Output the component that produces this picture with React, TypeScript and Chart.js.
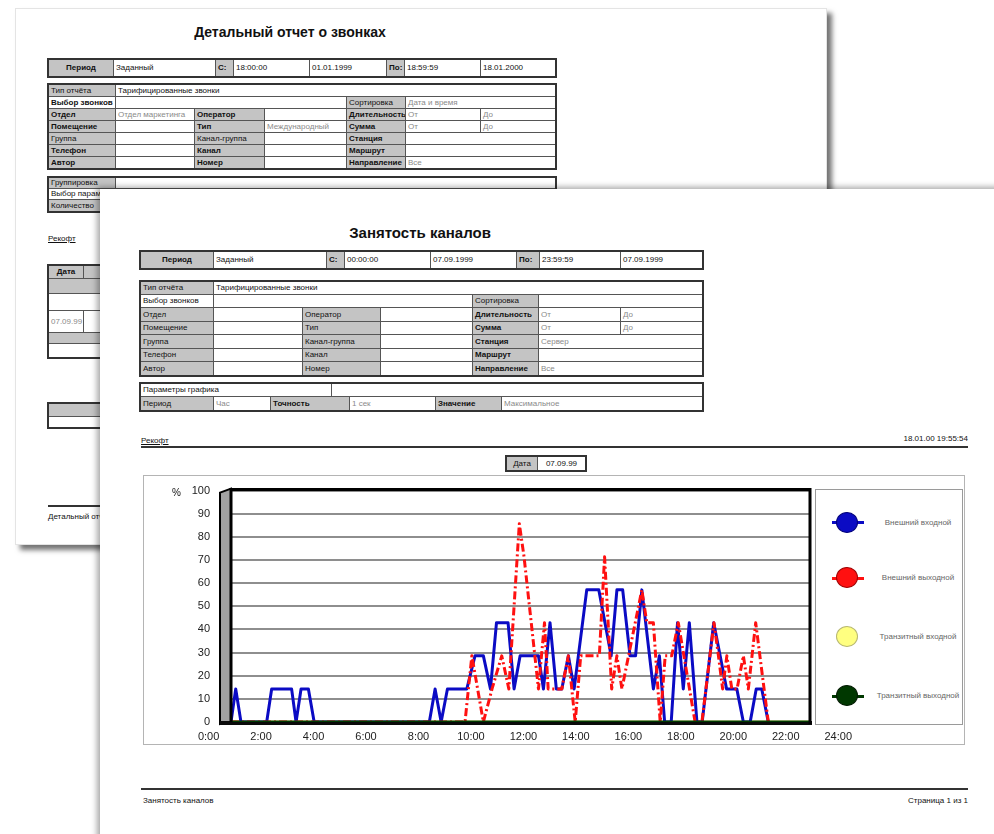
import React, { useEffect, useRef } from "react";
import { Chart, registerables } from "chart.js";

Chart.register(...registerables);

// ---------------- DATA ----------------
const seriesNames = ["Внешний входной", "Внешний выходной", "Транзитный входной", "Транзитный выходной"];
const seriesColors = ["#0b0bc4", "#ff1010", "#ffff80", "#003800"];
const xTickHours = [0, 2, 4, 6, 8, 10, 12, 14, 16, 18, 20, 22, 24];
const xMin = 0.93;
const xMax = 23.0;

// Внешний входной (blue)
const blueTimes = [0.93, 1.11, 1.31, 2.29, 2.48, 3.24, 3.41, 3.6, 3.88, 4.1, 8.49, 8.71, 8.94, 9.18, 9.92, 10.23, 10.55, 10.82, 11.05, 11.49, 11.72, 11.95, 12.65, 12.84, 13.09, 13.33, 13.54, 13.79, 14.01, 14.49, 14.95, 15.42, 15.64, 15.86, 16.14, 16.35, 16.59, 17.03, 17.26, 17.46, 17.71, 17.95, 18.17, 18.4, 18.69, 18.89, 19.33, 19.82, 20.21, 20.46, 20.72, 20.95, 21.16, 21.41];
const blueValues = [0, 14.3, 0, 0, 14.3, 14.3, 0, 14.3, 14.3, 0, 0, 14.3, 0, 14.3, 14.3, 28.6, 28.6, 14.3, 42.9, 42.9, 14.3, 28.6, 28.6, 14.3, 42.9, 14.3, 14.3, 28.6, 14.3, 57.1, 57.1, 28.6, 57.1, 57.1, 28.6, 28.6, 57.1, 14.3, 28.6, 0, 0, 42.9, 14.3, 42.9, 0, 0, 42.9, 14.3, 14.3, 0, 0, 14.3, 14.3, 0];

// Внешний выходной (red)
const redTimes = [0.93, 9.85, 10.11, 10.55, 10.88, 11.25, 11.52, 11.92, 12.1, 12.65, 12.88, 13.02, 13.54, 13.79, 14.05, 14.26, 14.97, 15.17, 15.44, 15.64, 15.83, 16.59, 16.78, 17.03, 17.29, 17.48, 17.73, 17.98, 18.62, 18.88, 19.34, 19.51, 19.67, 19.83, 20.02, 20.22, 20.46, 20.65, 20.93, 21.41];
const redValues = [0, 0, 28.6, 0, 14.3, 28.6, 14.3, 85.7, 71.4, 14.3, 42.9, 14.3, 14.3, 28.6, 0, 28.6, 28.6, 71.4, 14.3, 28.6, 14.3, 57.1, 42.9, 42.9, 0, 28.6, 28.6, 42.9, 0, 0, 42.9, 28.6, 14.3, 28.6, 14.3, 14.3, 28.6, 14.3, 42.9, 0];

// Транзитный входной (yellow) and Транзитный выходной (green)
const yellowTimes = [0.93, 23.0];
const yellowValues = [0, 0];
const greenTimes = [0.93, 23.0];
const greenValues = [0, 0];

// ---------------- LAYOUT HELPERS ----------------
const FONT = '"Liberation Sans", Arial, sans-serif';

type CellDef = [number, number, string, string?];

function Row({ y1, y2, cols }: { y1: number; y2: number; cols: CellDef[] }) {
  return (
    <>
      {cols.map(([x1, x2, t, f = ""], i) => {
        const grey = f.includes("g");
        const bold = f.includes("b");
        const val = f.includes("v");
        const center = f.includes("c");
        return (
          <div
            key={i}
            style={{
              position: "absolute",
              left: x1,
              top: y1,
              width: x2 - x1 + 1,
              height: y2 - y1 + 1,
              boxSizing: "border-box",
              border: "1px solid #555",
              background: grey ? "#c4c4c4" : "#fff",
              font: `${bold ? "bold " : ""}8px ${FONT}`,
              color: val ? "#8a8a8a" : "#111",
              lineHeight: `${y2 - y1 - 1}px`,
              paddingLeft: center ? 0 : 2,
              textAlign: center ? "center" : "left",
              whiteSpace: "nowrap",
              overflow: "hidden",
            }}
          >
            {t}
          </div>
        );
      })}
    </>
  );
}

function Table({ ys, rows, x1, x2 }: { ys: number[]; rows: CellDef[][]; x1: number; x2: number }) {
  return (
    <>
      {rows.map((cols, i) => (
        <Row key={i} y1={ys[i]} y2={ys[i + 1]} cols={cols} />
      ))}
      <div
        style={{
          position: "absolute",
          left: x1 - 1,
          top: ys[0] - 1,
          width: x2 - x1 + 3,
          height: ys[ys.length - 1] - ys[0] + 3,
          boxSizing: "border-box",
          border: "2px solid #333",
        }}
      />
    </>
  );
}

function Txt({ x, y, t, size = 8, bold = false, color = "#111", align = "left", w = 300, underline = false }: any) {
  const left = align === "right" ? x - w : align === "center" ? x - w / 2 : x;
  return (
    <div
      style={{
        position: "absolute",
        left,
        top: y,
        width: w,
        textAlign: align,
        font: `${bold ? "bold " : ""}${size}px ${FONT}`,
        color,
        whiteSpace: "nowrap",
        textDecoration: underline ? "underline" : "none",
        lineHeight: 1,
      }}
    >
      {t}
    </div>
  );
}

function HLine({ x, y, w, h = 2, c = "#333" }: any) {
  return <div style={{ position: "absolute", left: x, top: y, width: w, height: h, background: c }} />;
}

// ---------------- CHART ----------------
function ChannelChart() {
  const ref = useRef<HTMLCanvasElement>(null);
  useEffect(() => {
    if (!ref.current) return;
    const frame3d = {
      id: "frame3d",
      beforeDatasetsDraw(chart: any) {
        const { ctx, chartArea: a } = chart;
        ctx.save();
        ctx.fillStyle = "#a2a2a2";
        ctx.beginPath();
        ctx.moveTo(a.left - 11, a.top + 2);
        ctx.lineTo(a.left, a.top - 2);
        ctx.lineTo(a.left, a.bottom);
        ctx.lineTo(a.left - 11, a.bottom + 2);
        ctx.closePath();
        ctx.fill();
        ctx.strokeStyle = "#000";
        ctx.lineWidth = 2;
        ctx.stroke();
        ctx.fillStyle = "#0a0a0a";
        ctx.fillRect(a.left - 11, a.bottom - 1, a.right - a.left + 13, 4);
        ctx.restore();
      },
      afterDatasetsDraw(chart: any) {
        const { ctx, chartArea: a } = chart;
        ctx.save();
        ctx.strokeStyle = "#000";
        ctx.lineWidth = 3;
        ctx.beginPath();
        ctx.moveTo(a.left, a.bottom);
        ctx.lineTo(a.left, a.top - 1);
        ctx.lineTo(a.right, a.top - 1);
        ctx.lineTo(a.right, a.bottom + 2);
        ctx.stroke();
        ctx.restore();
      },
    };
    const pts = (ts: number[], vs: number[]) => ts.map((t, i) => ({ x: t, y: vs[i] }));
    const chart = new Chart(ref.current, {
      type: "line",
      data: {
        datasets: [
          { label: seriesNames[3], data: pts(greenTimes, greenValues), borderColor: seriesColors[3], borderWidth: 3, pointRadius: 0, order: 0 },
          { label: seriesNames[1], data: pts(redTimes, redValues), borderColor: seriesColors[1], borderWidth: 3, borderDash: [8, 3, 2, 3], pointRadius: 0, order: 1 },
          { label: seriesNames[0], data: pts(blueTimes, blueValues), borderColor: seriesColors[0], borderWidth: 3, pointRadius: 0, order: 2 },
          { label: seriesNames[2], data: pts(yellowTimes, yellowValues), borderColor: seriesColors[2], borderWidth: 3, pointRadius: 0, order: 3 },
        ],
      },
      options: {
        animation: false,
        responsive: false,
        devicePixelRatio: 1,
        layout: { padding: { top: 0, right: 155, left: 0, bottom: 0 } },
        elements: { line: { tension: 0, fill: false, borderJoinStyle: "round" } },
        plugins: { legend: { display: false }, tooltip: { enabled: false } },
        scales: {
          x: {
            type: "linear",
            min: xMin,
            max: xMax,
            afterBuildTicks: (s: any) => {
              s.ticks = xTickHours.map((v) => ({ value: v }));
            },
            afterFit: (s: any) => {
              s.height = 30;
            },
            ticks: {
              callback: (v: any) => `${v}:00`,
              autoSkip: false,
              maxRotation: 0,
              padding: 8,
              labelOffset: 2,
              color: "#222",
              font: { family: "Liberation Sans", size: 11 },
            },
            grid: { display: false, drawTicks: false },
            border: { display: false },
          },
          y: {
            min: 0,
            max: 100,
            afterFit: (s: any) => {
              s.width = 88;
            },
            ticks: {
              stepSize: 10,
              padding: 21,
              color: "#222",
              font: { family: "Liberation Sans", size: 11 },
            },
            grid: { color: "#8e8e8e", lineWidth: 2, drawTicks: false },
            border: { display: false },
          },
        },
      },
      plugins: [frame3d],
    } as any);
    return () => chart.destroy();
  }, []);
  return (
    <canvas
      ref={ref}
      width={822}
      height={289}
      style={{ position: "absolute", left: 143, top: 463, width: 822, height: 289 }}
    />
  );
}

function Legend() {
  const ys = [522.7, 578.3, 636.7, 696];
  const borders = ["#00007a", "#a00000", "#b8b870", "#001a00"];
  return (
    <>
      <div style={{ position: "absolute", left: 815, top: 489, width: 148, height: 236, boxSizing: "border-box", border: "1px solid #9a9a9a", background: "#fff" }} />
      {seriesNames.map((n, i) => (
        <React.Fragment key={n}>
          {i !== 2 && (
            <div style={{ position: "absolute", left: 832, top: ys[i] - 1.5, width: 32, height: 3, background: seriesColors[i] }} />
          )}
          <div
            style={{
              position: "absolute",
              left: 847 - 11,
              top: ys[i] - 11,
              width: 22,
              height: 21,
              boxSizing: "border-box",
              borderRadius: "50%",
              background: seriesColors[i],
              border: `1px solid ${borders[i]}`,
            }}
          />
          <Txt x={918} y={ys[i] - 4} t={n} size={8} color="#666" align="center" w={120} />
        </React.Fragment>
      ))}
    </>
  );
}

// ---------------- PAGE ----------------
export default function App() {
  const bx = [48, 115, 194, 264, 346, 405, 480, 555];
  const bInfoY = [84, 96, 108, 120, 132, 144, 156, 168];
  const fx = [140, 213, 302, 380, 472, 538, 620, 702];
  const fInfoY = [281, 294, 307, 321, 334, 348, 361, 375];
  return (
    <div style={{ position: "fixed", left: 0, top: 0, width: 994, height: 834, overflow: "hidden", background: "#fff" }}>
      {/* back sheet */}
      <div style={{ position: "absolute", left: 15, top: 8, width: 810, height: 535, background: "#fff", boxShadow: "5px 5px 5px rgba(0,0,0,0.55)", border: "1px solid #e4e4e4" }} />
      <Txt x={290} y={25} t="Детальный отчет о звонках" size={14} bold align="center" w={400} />
      <Table
        x1={48}
        x2={555}
        ys={[59, 76]}
        rows={[
          [
            [48, 113, "Период", "gbc"],
            [113, 215, "Заданный"],
            [215, 233, "С:", "gb"],
            [233, 309, "18:00:00"],
            [309, 386, "01.01.1999"],
            [386, 404, "По:", "gb"],
            [404, 480, "18:59:59"],
            [480, 555, "18.01.2000"],
          ],
        ]}
      />
      <Table
        x1={48}
        x2={555}
        ys={bInfoY}
        rows={[
          [[bx[0], bx[1], "Тип отчёта", "g"], [bx[1], bx[7], "Тарифицированные звонки"]],
          [[bx[0], bx[1], "Выбор звонков", "b"], [bx[1], bx[4], ""], [bx[4], bx[5], "Сортировка", "g"], [bx[5], bx[7], "Дата и время", "v"]],
          [[bx[0], bx[1], "Отдел", "gb"], [bx[1], bx[2], "Отдел маркетинга", "v"], [bx[2], bx[3], "Оператор", "gb"], [bx[3], bx[4], ""], [bx[4], bx[5], "Длительность", "gb"], [bx[5], bx[6], "От", "v"], [bx[6], bx[7], "До", "v"]],
          [[bx[0], bx[1], "Помещение", "gb"], [bx[1], bx[2], ""], [bx[2], bx[3], "Тип", "gb"], [bx[3], bx[4], "Международный", "v"], [bx[4], bx[5], "Сумма", "gb"], [bx[5], bx[6], "От", "v"], [bx[6], bx[7], "До", "v"]],
          [[bx[0], bx[1], "Группа", "g"], [bx[1], bx[2], ""], [bx[2], bx[3], "Канал-группа", "g"], [bx[3], bx[4], ""], [bx[4], bx[5], "Станция", "gb"], [bx[5], bx[7], ""]],
          [[bx[0], bx[1], "Телефон", "gb"], [bx[1], bx[2], ""], [bx[2], bx[3], "Канал", "gb"], [bx[3], bx[4], ""], [bx[4], bx[5], "Маршрут", "gb"], [bx[5], bx[7], ""]],
          [[bx[0], bx[1], "Автор", "gb"], [bx[1], bx[2], ""], [bx[2], bx[3], "Номер", "gb"], [bx[3], bx[4], ""], [bx[4], bx[5], "Направление", "gb"], [bx[5], bx[7], "Все", "v"]],
        ]}
      />
      <Table
        x1={48}
        x2={555}
        ys={[177, 188, 199, 211]}
        rows={[
          [[48, 115, "Группировка", "g"], [115, 555, ""]],
          [[48, 115, "Выбор параметров"], [115, 555, ""]],
          [[48, 115, "Количество", "g"], [115, 555, ""]],
        ]}
      />
      <Txt x={48} y={235} t="Рекофт" size={8} underline />
      <Table
        x1={48}
        x2={300}
        ys={[265, 278, 293, 310, 332, 343, 357]}
        rows={[
          [[48, 83, "Дата", "gbc"], [83, 300, "", "g"]],
          [[48, 300, "", "g"]],
          [[48, 300, ""]],
          [[48, 83, "07.09.99", "v"], [83, 300, ""]],
          [[48, 300, "", "g"]],
          [[48, 300, ""]],
        ]}
      />
      <Table x1={48} x2={300} ys={[403, 416, 427]} rows={[[[48, 300, "", "g"]], [[48, 300, ""]]]} />
      <HLine x={48} y={505} w={700} />
      <Txt x={48} y={513} t="Детальный отчет о звонках" size={8} />

      {/* front sheet */}
      <div style={{ position: "absolute", left: 100, top: 189, width: 920, height: 700, background: "#fff", boxShadow: "-3px -2px 6px rgba(0,0,0,0.35)" }} />
      <Txt x={420} y={225} t="Занятость каналов" size={15} bold align="center" w={300} />
      <Table
        x1={140}
        x2={702}
        ys={[251, 268]}
        rows={[
          [
            [140, 213, "Период", "gbc"],
            [213, 326, "Заданный"],
            [326, 344, "С:", "gb"],
            [344, 430, "00:00:00"],
            [430, 516, "07.09.1999"],
            [516, 539, "По:", "gb"],
            [539, 620, "23:59:59"],
            [620, 702, "07.09.1999"],
          ],
        ]}
      />
      <Table
        x1={140}
        x2={702}
        ys={fInfoY}
        rows={[
          [[fx[0], fx[1], "Тип отчёта", "g"], [fx[1], fx[7], "Тарифицированные звонки"]],
          [[fx[0], fx[1], "Выбор звонков"], [fx[1], fx[4], ""], [fx[4], fx[5], "Сортировка", "g"], [fx[5], fx[7], ""]],
          [[fx[0], fx[1], "Отдел", "g"], [fx[1], fx[2], ""], [fx[2], fx[3], "Оператор", "g"], [fx[3], fx[4], ""], [fx[4], fx[5], "Длительность", "gb"], [fx[5], fx[6], "От", "v"], [fx[6], fx[7], "До", "v"]],
          [[fx[0], fx[1], "Помещение", "g"], [fx[1], fx[2], ""], [fx[2], fx[3], "Тип", "g"], [fx[3], fx[4], ""], [fx[4], fx[5], "Сумма", "gb"], [fx[5], fx[6], "От", "v"], [fx[6], fx[7], "До", "v"]],
          [[fx[0], fx[1], "Группа", "g"], [fx[1], fx[2], ""], [fx[2], fx[3], "Канал-группа", "g"], [fx[3], fx[4], ""], [fx[4], fx[5], "Станция", "gb"], [fx[5], fx[7], "Сервер", "v"]],
          [[fx[0], fx[1], "Телефон", "g"], [fx[1], fx[2], ""], [fx[2], fx[3], "Канал", "g"], [fx[3], fx[4], ""], [fx[4], fx[5], "Маршрут", "gb"], [fx[5], fx[7], ""]],
          [[fx[0], fx[1], "Автор", "g"], [fx[1], fx[2], ""], [fx[2], fx[3], "Номер", "g"], [fx[3], fx[4], ""], [fx[4], fx[5], "Направление", "gb"], [fx[5], fx[7], "Все", "v"]],
        ]}
      />
      <Table
        x1={140}
        x2={702}
        ys={[383, 396, 410]}
        rows={[
          [[140, 331, "Параметры графика"], [331, 702, ""]],
          [[140, 213, "Период", "g"], [213, 270, "Час", "v"], [270, 349, "Точность", "gb"], [349, 435, "1 сек", "v"], [435, 501, "Значение", "gb"], [501, 702, "Максимальное", "v"]],
        ]}
      />
      <Txt x={141} y={437} t="Рекофт" size={8} underline />
      <Txt x={968} y={435} t="18.01.00   19:55:54" size={8} align="right" w={200} />
      <HLine x={141} y={446} w={827} />
      <Table x1={506} x2={585} ys={[456, 470]} rows={[[[506, 537, "Дата", "gc"], [537, 585, "07.09.99", "c"]]]} />

      {/* chart box */}
      <div style={{ position: "absolute", left: 143, top: 475, width: 822, height: 270, boxSizing: "border-box", border: "1px solid #b4b4b4" }} />
      <Legend />
      <ChannelChart />
      <Txt x={172} y={488} t="%" size={10} />

      <HLine x={141} y={788} w={827} />
      <Txt x={143} y={797} t="Занятость каналов" size={8} />
      <Txt x={968} y={797} t="Страница 1 из 1" size={8} align="right" w={200} />
    </div>
  );
}
